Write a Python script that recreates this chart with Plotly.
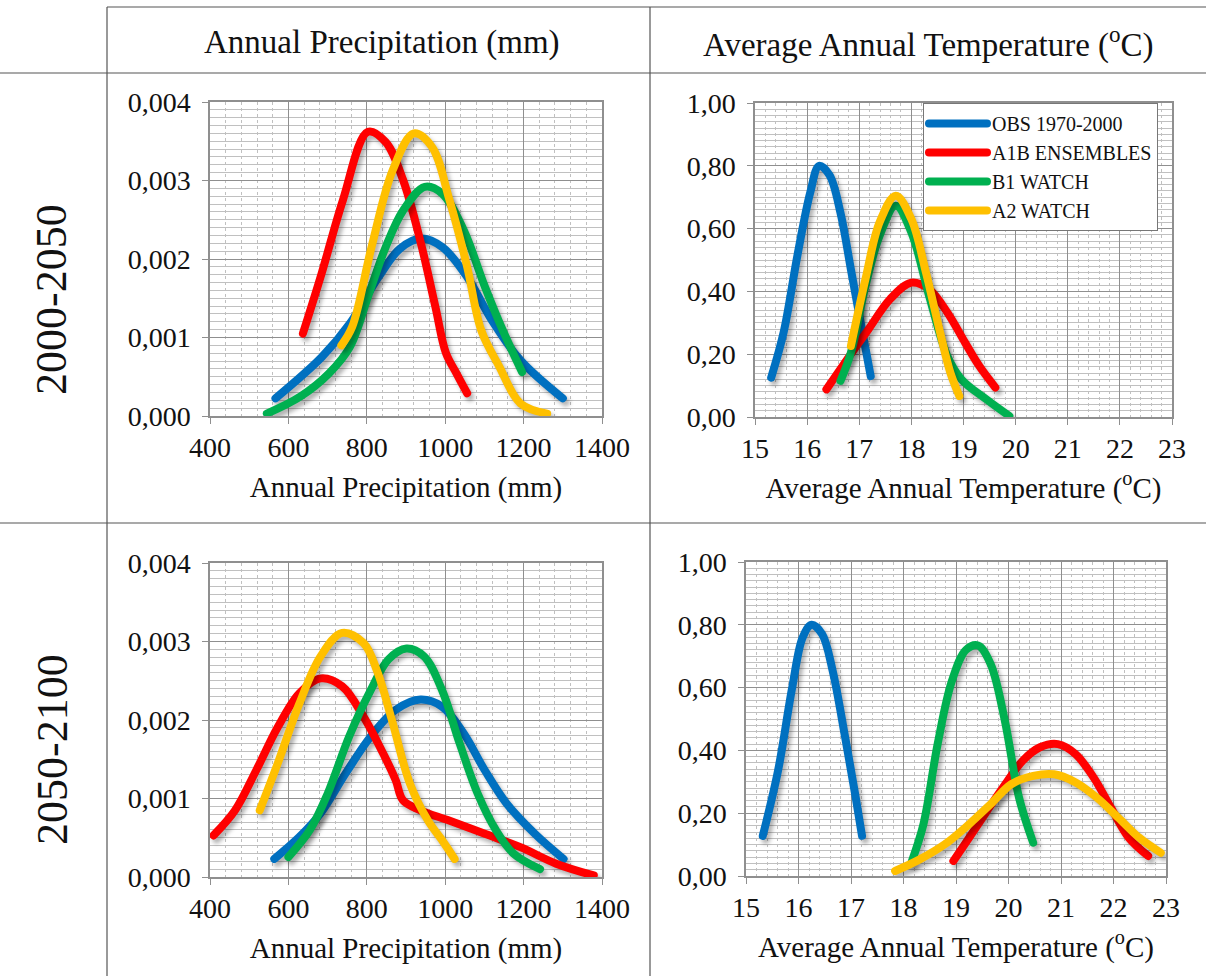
import plotly.graph_objects as go

W, H = 1206, 976

SERIES = ["OBS 1970-2000", "A1B ENSEMBLES", "B1 WATCH", "A2 WATCH"]
COLORS = ["#0070C0", "#FF0000", "#00B050", "#FFC000"]

COL_HEADERS = ["Annual Precipitation (mm)", "Average Annual Temperature (<sup>o</sup>C)"]
ROW_HEADERS = ["2000-2050", "2050-2100"]

# ---- 2000-2050, annual precipitation ----
P1_OBS_X = [567, 685, 757, 830, 884, 938, 993, 1056, 1119, 1192, 1300]
P1_OBS_Y = [0.000225, 0.00075, 0.00118, 0.00177, 0.00213, 0.00226, 0.00215, 0.00177, 0.00122, 0.00071, 0.000225]
P1_A1B_X = [637, 685, 739, 803, 848, 893, 938, 975, 1002, 1029, 1056]
P1_A1B_Y = [0.00105, 0.00182, 0.00275, 0.00362, 0.00349, 0.0030, 0.0022, 0.00139, 0.0008, 0.00054, 0.00029]
P1_B1_X = [545, 631, 703, 757, 803, 848, 893, 948, 993, 1047, 1101, 1147, 1196]
P1_B1_Y = [0.00003, 0.00025, 0.00054, 0.00088, 0.00152, 0.00215, 0.00262, 0.00292, 0.00283, 0.00237, 0.00165, 0.00109, 0.00056]
P1_A2_X = [735, 763, 812, 866, 920, 966, 1011, 1056, 1092, 1138, 1192, 1260]
P1_A2_Y = [0.0009, 0.00114, 0.00215, 0.00313, 0.0036, 0.00343, 0.00275, 0.0019, 0.00109, 0.00063, 0.00016, 0.00003]

# ---- 2000-2050, average annual temperature ----
T1_OBS_X = [15.31, 15.55, 15.82, 16.06, 16.23, 16.43, 16.64, 16.84, 17.05, 17.22]
T1_OBS_Y = [0.125, 0.27, 0.52, 0.715, 0.80, 0.77, 0.65, 0.47, 0.28, 0.13]
T1_A1B_X = [16.37, 16.77, 17.18, 17.59, 18.0, 18.34, 18.69, 19.03, 19.3, 19.61]
T1_A1B_Y = [0.088, 0.184, 0.28, 0.375, 0.428, 0.407, 0.333, 0.237, 0.163, 0.094]
T1_B1_X = [16.64, 16.84, 17.12, 17.39, 17.7, 18.0, 18.34, 18.69, 18.96, 19.44, 19.88]
T1_B1_Y = [0.115, 0.205, 0.418, 0.577, 0.673, 0.588, 0.386, 0.194, 0.12, 0.056, 0.003]
T1_A2_X = [16.84, 17.12, 17.39, 17.7, 18.0, 18.28, 18.55, 18.75, 18.92]
T1_A2_Y = [0.226, 0.44, 0.62, 0.705, 0.63, 0.46, 0.27, 0.14, 0.067]

# ---- 2050-2100, annual precipitation ----
P2_OBS_X = [564, 628, 682, 746, 810, 874, 937, 992, 1047, 1101, 1156, 1229, 1302]
P2_OBS_Y = [0.00023, 0.00051, 0.00081, 0.00132, 0.00179, 0.00213, 0.00226, 0.00217, 0.00183, 0.00136, 0.00094, 0.00055, 0.00023]
P2_A1B_X = [409, 464, 518, 573, 628, 682, 737, 792, 846, 874, 892, 937, 1010, 1101, 1192, 1283, 1379]
P2_A1B_Y = [0.00053, 0.00085, 0.00136, 0.00191, 0.00234, 0.00253, 0.00243, 0.00204, 0.00153, 0.00123, 0.00098, 0.00085, 0.00072, 0.00055, 0.00038, 0.00017, 0.00002]
P2_B1_X = [600, 655, 700, 755, 810, 855, 901, 946, 992, 1037, 1083, 1129, 1174, 1242]
P2_B1_Y = [0.000255, 0.0006, 0.00106, 0.00179, 0.00238, 0.00277, 0.00291, 0.00281, 0.00238, 0.0017, 0.00106, 0.0006, 0.0003, 0.0001]
P2_A2_X = [527, 573, 628, 682, 737, 792, 828, 864, 910, 956, 992, 1024]
P2_A2_Y = [0.00085, 0.00145, 0.00221, 0.00281, 0.00311, 0.00298, 0.0026, 0.0020, 0.00119, 0.00072, 0.00047, 0.00023]

# ---- 2050-2100, average annual temperature ----
T2_OBS_X = [15.32, 15.61, 15.88, 16.08, 16.25, 16.45, 16.65, 16.89, 17.09, 17.21]
T2_OBS_Y = [0.128, 0.335, 0.60, 0.76, 0.80, 0.77, 0.654, 0.44, 0.25, 0.128]
T2_A1B_X = [18.95, 19.25, 19.59, 19.93, 20.27, 20.6, 20.94, 21.28, 21.62, 21.95, 22.29, 22.66]
T2_A1B_Y = [0.048, 0.122, 0.207, 0.29, 0.367, 0.41, 0.42, 0.388, 0.314, 0.218, 0.122, 0.064]
T2_B1_X = [18.15, 18.38, 18.65, 18.92, 19.19, 19.42, 19.66, 19.93, 20.2, 20.47]
T2_B1_Y = [0.043, 0.165, 0.42, 0.62, 0.72, 0.734, 0.675, 0.495, 0.25, 0.106]
T2_A2_X = [17.84, 18.31, 18.78, 19.25, 19.66, 20.06, 20.47, 20.87, 21.28, 21.68, 22.09, 22.49, 22.9]
T2_A2_Y = [0.016, 0.053, 0.10, 0.165, 0.229, 0.293, 0.319, 0.324, 0.298, 0.25, 0.186, 0.122, 0.074]

PANELS = [
    ("x", "y", [(P1_OBS_X, P1_OBS_Y), (P1_A1B_X, P1_A1B_Y), (P1_B1_X, P1_B1_Y), (P1_A2_X, P1_A2_Y)], False),
    ("x2", "y2", [(T1_OBS_X, T1_OBS_Y), (T1_A1B_X, T1_A1B_Y), (T1_B1_X, T1_B1_Y), (T1_A2_X, T1_A2_Y)], True),
    ("x3", "y3", [(P2_OBS_X, P2_OBS_Y), (P2_A1B_X, P2_A1B_Y), (P2_B1_X, P2_B1_Y), (P2_A2_X, P2_A2_Y)], False),
    ("x4", "y4", [(T2_OBS_X, T2_OBS_Y), (T2_A1B_X, T2_A1B_Y), (T2_B1_X, T2_B1_Y), (T2_A2_X, T2_A2_Y)], False),
]

FONT = "Liberation Serif"

fig = go.Figure()
for xa, ya, series, legend in PANELS:
    for name, color, (xs, ys) in zip(SERIES, COLORS, series):
        fig.add_trace(go.Scatter(
            x=xs, y=ys, xaxis=xa, yaxis=ya, name=name, mode="lines",
            line=dict(color=color, width=8, shape="spline", smoothing=1.0),
            showlegend=legend, legendgroup=name, hoverinfo="skip",
        ))


def px_dom_x(a, b):
    return [a / W, b / W]


def px_dom_y(top, bottom):
    return [1 - bottom / H, 1 - top / H]


GRID_MAJOR = "#8f8f8f"
GRID_MINOR = "#c0c0c0"
TICKFONT = dict(family=FONT, size=28, color="#111")
TITLEFONT = dict(family=FONT, size=29, color="#111")


def xaxis(dom, rng, dtick, minor, title, anchor):
    return dict(
        domain=dom, range=rng, dtick=dtick, tick0=rng[0], anchor=anchor,
        automargin=False,
        showgrid=True, gridcolor=GRID_MAJOR, gridwidth=1,
        minor=dict(dtick=minor, showgrid=True, gridcolor=GRID_MINOR, griddash="dot", gridwidth=1),
        showline=True, linecolor=GRID_MAJOR, linewidth=1.5, mirror=True,
        ticks="outside", ticklen=6, tickcolor=GRID_MAJOR,
        tickfont=TICKFONT, zeroline=False, ticklabelstandoff=0,
        title=dict(text=title, font=TITLEFONT, standoff=14),
    )


def yaxis(dom, rng, dtick, minor, fmt, anchor):
    return dict(
        domain=dom, range=rng, dtick=dtick, tick0=0, anchor=anchor,
        automargin=False,
        showgrid=True, gridcolor=GRID_MAJOR, gridwidth=1,
        minor=dict(dtick=minor, showgrid=True, gridcolor=GRID_MINOR, griddash="solid", gridwidth=1),
        showline=True, linecolor=GRID_MAJOR, linewidth=1.5, mirror=True,
        ticks="outside", ticklen=6, tickcolor=GRID_MAJOR,
        tickfont=TICKFONT, tickformat=fmt, zeroline=False, ticklabelstandoff=6,
    )


PRECIP_TITLE = "Annual Precipitation (mm)"
TEMP_TITLE = "Average Annual Temperature (<sup>o</sup>C)"

fig.update_layout(
    width=W, height=H, margin=dict(l=0, r=0, t=0, b=0, autoexpand=False),
    paper_bgcolor="white", plot_bgcolor="white",
    separators=", ",
    font=dict(family=FONT, color="#111"),
    xaxis=xaxis(px_dom_x(210, 602), [400, 1400], 200, 40, PRECIP_TITLE, "y"),
    yaxis=yaxis(px_dom_y(102, 416), [0, 0.004], 0.001, 0.0001, ".3f", "x"),
    xaxis2=xaxis(px_dom_x(755, 1172), [15, 23], 1, 0.2, TEMP_TITLE, "y2"),
    yaxis2=yaxis(px_dom_y(103, 417), [0, 1], 0.2, 0.02, ".2f", "x2"),
    xaxis3=xaxis(px_dom_x(210, 602), [400, 1400], 200, 40, PRECIP_TITLE, "y3"),
    yaxis3=yaxis(px_dom_y(563, 877), [0, 0.004], 0.001, 0.0001, ".3f", "x3"),
    xaxis4=xaxis(px_dom_x(746, 1166), [15, 23], 1, 0.2, TEMP_TITLE, "y4"),
    yaxis4=yaxis(px_dom_y(562, 876), [0, 1], 0.2, 0.02, ".2f", "x4"),
    legend=dict(
        x=923 / W, y=1 - 103 / H, xanchor="left", yanchor="top",
        bgcolor="white", bordercolor="#777", borderwidth=1,
        font=dict(family=FONT, size=20, color="#111"),
        itemwidth=58, tracegroupgap=0, traceorder="normal",
    ),
)

# table frame lines
LINE = dict(color="#555", width=1.2)
shapes = [
    dict(type="line", xref="paper", yref="paper", x0=107 / W, x1=1, y0=1 - 7 / H, y1=1 - 7 / H, line=LINE),
    dict(type="line", xref="paper", yref="paper", x0=0, x1=1, y0=1 - 73 / H, y1=1 - 73 / H, line=LINE),
    dict(type="line", xref="paper", yref="paper", x0=0, x1=1, y0=1 - 523 / H, y1=1 - 523 / H, line=LINE),
    dict(type="line", xref="paper", yref="paper", x0=107 / W, x1=107 / W, y0=0, y1=1 - 7 / H, line=LINE),
    dict(type="line", xref="paper", yref="paper", x0=650 / W, x1=650 / W, y0=0, y1=1 - 7 / H, line=LINE),
]
fig.update_layout(shapes=shapes)

annotations = [
    dict(text=COL_HEADERS[0], x=382 / W, y=1 - 42 / H, xref="paper", yref="paper",
         xanchor="center", yanchor="middle",
         showarrow=False, font=dict(family=FONT, size=33, color="#111")),
    dict(text=COL_HEADERS[1], x=928 / W, y=1 - 42 / H, xref="paper", yref="paper",
         xanchor="center", yanchor="middle",
         showarrow=False, font=dict(family=FONT, size=33, color="#111")),
    dict(text=ROW_HEADERS[0], x=52 / W, y=1 - 300 / H, xref="paper", yref="paper",
         xanchor="center", yanchor="middle",
         showarrow=False, textangle=-90, font=dict(family=FONT, size=44, color="#111")),
    dict(text=ROW_HEADERS[1], x=52 / W, y=1 - 750 / H, xref="paper", yref="paper",
         xanchor="center", yanchor="middle",
         showarrow=False, textangle=-90, font=dict(family=FONT, size=44, color="#111")),
]
fig.update_layout(annotations=annotations)

POST = """
document.body.style.margin = '0';
var gd = document.getElementById('{plot_id}');
gd.querySelectorAll('.scatterlayer .js-line').forEach(function (p) {
    p.style.filter = 'drop-shadow(3px 4px 2px rgba(0,0,0,0.30))';
    p.style.strokeLinecap = 'round';
    p.style.strokeLinejoin = 'round';
});
gd.querySelectorAll('.legend .js-line').forEach(function (p) {
    p.style.strokeLinecap = 'round';
});
"""

fig.write_html("out.html", post_script=POST, config={"displayModeBar": False})
